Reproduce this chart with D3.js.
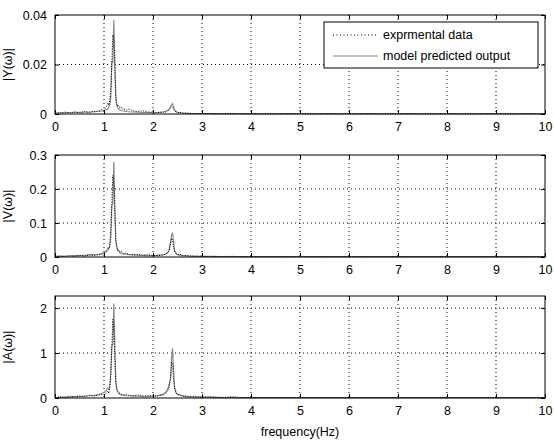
<!DOCTYPE html>
<html>
<head>
<meta charset="utf-8">
<script src="https://cdn.jsdelivr.net/npm/d3@7"></script>
<style>
body { margin: 0; background: #fff; }
text { font-family: "Liberation Sans", Arial, sans-serif; }
</style>
</head>
<body>
<svg id="chart" width="554" height="441"></svg>
<script>
// shared frequency grid (Hz)
const freq = [0, 0.1, 0.2, 0.3, 0.4, 0.5, 0.6, 0.7, 0.8, 0.9, 0.95, 1.0, 1.05, 1.08, 1.1, 1.12, 1.14, 1.16, 1.18, 1.2, 1.22, 1.24, 1.26, 1.28, 1.3, 1.33, 1.36, 1.4, 1.45, 1.5, 1.6, 1.7, 1.8, 1.9, 2.0, 2.1, 2.2, 2.25, 2.3, 2.33, 2.36, 2.38, 2.4, 2.42, 2.44, 2.47, 2.5, 2.55, 2.6, 2.7, 2.8, 3.0, 3.2, 3.4, 3.6, 3.8, 4.0, 4.5, 5.0, 5.5, 6.0, 6.5, 7.0, 7.5, 8.0, 8.5, 9.0, 9.5, 10];

// |Y(w)|
const yExp = [0.0006, 0.0003, 0.0008, 0.0004, 0.0009, 0.0005, 0.001, 0.0006, 0.0011, 0.0012, 0.0018, 0.0015, 0.003, 0.0045, 0.0035, 0.006, 0.011, 0.021, 0.032, 0.031, 0.019, 0.008, 0.0045, 0.003, 0.0035, 0.0022, 0.0028, 0.0018, 0.0016, 0.002, 0.0012, 0.001, 0.0013, 0.0008, 0.0007, 0.0006, 0.0008, 0.0007, 0.0012, 0.0018, 0.0025, 0.003, 0.0028, 0.0018, 0.0012, 0.0009, 0.0006, 0.0007, 0.0004, 0.0003, 0.0002, 0.0002, 0.0001, 0.0001, 0.0002, 0.0001, 0.0001, 0.0001, 0.0001, 0.0001, 0.0001, 0.0001, 0.0001, 0.0001, 0.0001, 0.0001, 0.0001, 0.0001, 0.0001];
const yMod = [0.0004, 0.0005, 0.0005, 0.0006, 0.0006, 0.0007, 0.0007, 0.0008, 0.0009, 0.001, 0.0012, 0.0014, 0.0018, 0.0022, 0.0028, 0.004, 0.007, 0.021, 0.021, 0.038, 0.022, 0.006, 0.0035, 0.0025, 0.002, 0.0016, 0.0014, 0.0012, 0.001, 0.0009, 0.0008, 0.0007, 0.0006, 0.0006, 0.0005, 0.0006, 0.0008, 0.001, 0.0014, 0.002, 0.003, 0.0038, 0.0042, 0.003, 0.0018, 0.001, 0.0007, 0.0005, 0.0004, 0.0003, 0.0002, 0.0002, 0.0002, 0.0001, 0.0001, 0.0001, 0.0001, 0.0001, 0.0001, 0.0001, 0.0001, 0.0001, 0.0001, 0.0001, 0.0001, 0.0001, 0.0001, 0.0001, 0.0001];

// |V(w)|
const vExp = [0.001, 0.003, 0.001, 0.004, 0.002, 0.005, 0.002, 0.006, 0.004, 0.007, 0.008, 0.01, 0.02, 0.028, 0.024, 0.04, 0.09, 0.16, 0.24, 0.22, 0.13, 0.05, 0.03, 0.02, 0.022, 0.014, 0.016, 0.01, 0.012, 0.008, 0.006, 0.008, 0.005, 0.007, 0.004, 0.005, 0.006, 0.008, 0.012, 0.02, 0.04, 0.055, 0.05, 0.03, 0.015, 0.01, 0.007, 0.008, 0.005, 0.004, 0.003, 0.002, 0.001, 0.001, 0.002, 0.001, 0.001, 0.001, 0.001, 0.001, 0.001, 0.001, 0.001, 0.001, 0.001, 0.001, 0.001, 0.001, 0.001];
const vMod = [0.002, 0.002, 0.003, 0.003, 0.004, 0.004, 0.005, 0.006, 0.007, 0.008, 0.01, 0.012, 0.016, 0.02, 0.026, 0.035, 0.06, 0.15, 0.16, 0.28, 0.16, 0.05, 0.03, 0.02, 0.016, 0.012, 0.01, 0.009, 0.008, 0.007, 0.006, 0.005, 0.005, 0.004, 0.004, 0.005, 0.006, 0.008, 0.013, 0.02, 0.045, 0.065, 0.07, 0.045, 0.02, 0.01, 0.007, 0.005, 0.004, 0.003, 0.002, 0.002, 0.002, 0.001, 0.001, 0.001, 0.001, 0.001, 0.001, 0.001, 0.001, 0.001, 0.001, 0.001, 0.001, 0.001, 0.001, 0.001, 0.001];

// |A(w)|
const aExp = [0.01, 0.03, 0.01, 0.04, 0.02, 0.05, 0.02, 0.06, 0.04, 0.07, 0.08, 0.07, 0.12, 0.16, 0.1, 0.25, 0.6, 1.15, 1.75, 1.6, 0.9, 0.35, 0.2, 0.15, 0.12, 0.1, 0.08, 0.07, 0.09, 0.06, 0.05, 0.07, 0.04, 0.06, 0.04, 0.05, 0.07, 0.1, 0.15, 0.25, 0.45, 0.8, 0.75, 0.4, 0.2, 0.12, 0.08, 0.07, 0.05, 0.04, 0.03, 0.02, 0.02, 0.01, 0.03, 0.01, 0.01, 0.01, 0.01, 0.01, 0.01, 0.01, 0.01, 0.01, 0.01, 0.01, 0.01, 0.01, 0.01];
const aMod = [0.01, 0.01, 0.02, 0.02, 0.03, 0.03, 0.04, 0.05, 0.06, 0.08, 0.1, 0.12, 0.18, 0.22, 0.2, 0.3, 0.55, 1.15, 1.2, 2.1, 1.2, 0.4, 0.2, 0.14, 0.1, 0.08, 0.07, 0.06, 0.05, 0.05, 0.04, 0.04, 0.03, 0.03, 0.04, 0.05, 0.08, 0.12, 0.2, 0.3, 0.45, 0.9, 1.1, 0.6, 0.25, 0.12, 0.08, 0.06, 0.04, 0.03, 0.02, 0.02, 0.02, 0.01, 0.01, 0.01, 0.01, 0.01, 0.01, 0.01, 0.01, 0.01, 0.01, 0.01, 0.01, 0.01, 0.01, 0.01, 0.01];

const xTicks = [0, 1, 2, 3, 4, 5, 6, 7, 8, 9, 10];
const panels = [
  { label: "|Y(\u03c9)|", top: 15, bottom: 114, ymax: 0.04, ticks: [0, 0.02, 0.04], fmt: d => d === 0 ? "0" : d3.format(".2f")(d), exp: yExp, mod: yMod },
  { label: "|V(\u03c9)|", top: 155, bottom: 257, ymax: 0.3, ticks: [0, 0.1, 0.2, 0.3], fmt: d => d === 0 ? "0" : d3.format(".1f")(d), exp: vExp, mod: vMod },
  { label: "|A(\u03c9)|", top: 296, bottom: 398, ymax: 2.27, ticks: [0, 1, 2], fmt: d => d3.format("d")(d), exp: aExp, mod: aMod }
];
const legendNames = ["exprmental data", "model predicted output"];

const svg = d3.select("#chart");
const left = 55, right = 545;
const fs = 12.5;
const x = d3.scaleLinear().domain([0, 10]).range([left, right]);

panels.forEach((p, i) => {
  const y = d3.scaleLinear().domain([0, p.ymax]).range([p.bottom, p.top]);
  const g = svg.append("g");

  // grid
  g.selectAll(".gx").data(xTicks.slice(1, -1)).enter().append("line")
    .attr("x1", d => x(d)).attr("x2", d => x(d)).attr("y1", p.top).attr("y2", p.bottom)
    .attr("stroke", "#000").attr("stroke-width", 1).attr("stroke-dasharray", "1,3");
  g.selectAll(".gy").data(p.ticks.filter(t => t > 0 && y(t) > p.top + 1)).enter().append("line")
    .attr("x1", left).attr("x2", right).attr("y1", d => y(d)).attr("y2", d => y(d))
    .attr("stroke", "#000").attr("stroke-width", 1).attr("stroke-dasharray", "1,3");

  const line = d3.line().x((d, k) => x(freq[k])).y(d => y(d));
  g.append("path").datum(p.mod).attr("fill", "none").attr("stroke", "#8a8a8a")
    .attr("stroke-width", 1.2).attr("d", line);
  g.append("path").datum(p.exp).attr("fill", "none").attr("stroke", "#000")
    .attr("stroke-width", 1).attr("stroke-dasharray", "1,1.5").attr("d", line);

  // axes, ticks inward
  g.append("g").attr("transform", "translate(0," + p.bottom + ")")
    .call(d3.axisBottom(x).tickValues(xTicks).tickSize(-4).tickPadding(8).tickFormat(d3.format("d")));
  g.append("g").attr("transform", "translate(0," + p.top + ")")
    .call(d3.axisTop(x).tickValues(xTicks).tickSize(-4).tickFormat(""));
  g.append("g").attr("transform", "translate(" + left + ",0)")
    .call(d3.axisLeft(y).tickValues(p.ticks).tickSize(-4).tickPadding(8).tickFormat(p.fmt));
  g.append("g").attr("transform", "translate(" + right + ",0)")
    .call(d3.axisRight(y).tickValues(p.ticks).tickSize(-4).tickFormat(""));
  g.selectAll(".domain").remove();
  g.append("rect").attr("x", left).attr("y", p.top).attr("width", right - left).attr("height", p.bottom - p.top)
    .attr("fill", "none").attr("stroke", "#000").attr("stroke-width", 1);
  g.selectAll(".tick text").attr("font-size", fs).attr("fill", "#000")
    .attr("font-family", "Liberation Sans, Arial, sans-serif");

  g.append("text").attr("transform", "translate(12," + ((p.top + p.bottom) / 2) + ") rotate(-90)")
    .attr("text-anchor", "middle").attr("font-size", fs).text(p.label);
});

svg.append("text").attr("x", x(5)).attr("y", 436).attr("text-anchor", "middle")
  .attr("font-size", fs).text("frequency(Hz)");

// legend
const lg = svg.append("g").attr("transform", "translate(324,22)");
lg.append("rect").attr("width", 214).attr("height", 46).attr("fill", "#fff").attr("stroke", "#000");
legendNames.forEach((n, k) => {
  const yy = 13 + k * 21;
  lg.append("line").attr("x1", 9).attr("x2", 54).attr("y1", yy).attr("y2", yy)
    .attr("stroke", k === 0 ? "#000" : "#8a8a8a").attr("stroke-width", k === 0 ? 1 : 1.2)
    .attr("stroke-dasharray", k === 0 ? "1,2.5" : null);
  lg.append("text").attr("x", 59).attr("y", yy + 4).attr("font-size", fs).text(n);
});
</script>
</body>
</html>
